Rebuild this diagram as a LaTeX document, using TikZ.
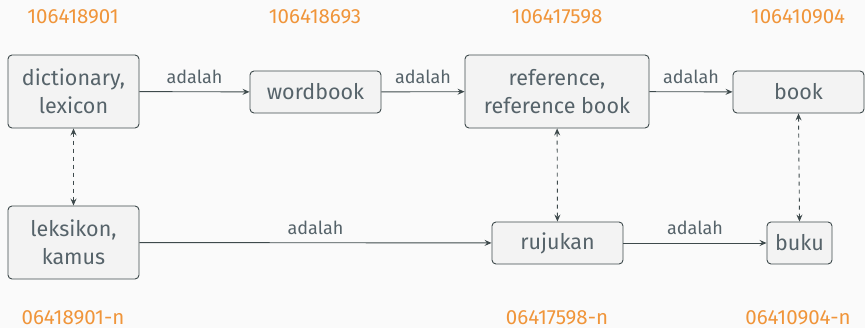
\documentclass[tikz,border=0pt]{standalone}
\usepackage{fontspec}
\setmainfont{Fira Sans}
\usetikzlibrary{arrows.meta}
\definecolor{bgcol}{HTML}{FAFAFA}
\definecolor{boxfill}{HTML}{F3F3F3}
\definecolor{boxline}{HTML}{3E4A4C}
\definecolor{txtcol}{HTML}{56636A}
\definecolor{idcol}{HTML}{F0953A}
\begin{document}
\begin{tikzpicture}[x=1pt,y=-1pt,
    synset/.style={draw=boxline,fill=boxfill,rounded corners=4pt,line width=0.9pt,
      inner sep=0pt,align=center,text=txtcol,minimum width=131pt,
      font=\fontsize{21.5}{28}\selectfont},
    tall/.style={minimum height=73pt},
    short/.style={minimum height=42pt},
    synid/.style={text=idcol,font=\fontsize{20.5}{24}\selectfont},
    rel/.style={draw=boxline,line width=0.9pt,-{Stealth[length=7pt,width=6pt,inset=2.5pt]}},
    eq/.style={draw=boxline,line width=0.9pt,dashed,dash pattern=on 4pt off 4pt,
      {Stealth[length=7pt,width=6pt,inset=2.5pt]}-{Stealth[length=7pt,width=6pt,inset=2.5pt]}},
    lbl/.style={text=txtcol,font=\fontsize{18}{21}\selectfont,above,inner sep=8pt}]
  \fill[bgcol] (0,0) rectangle (865,328);
  \useasboundingbox (0,0) rectangle (865,328);
  % english synsets
  \node[synset,tall] (dict) at (73.5,91.5) {dictionary,\\lexicon};
  \node[synset,short] (wordbook) at (315.5,92) {wordbook};
  \node[synset,tall,minimum width=184pt] (ref) at (557,91.5) {reference,\\reference book};
  \node[synset,short] (book) at (798.5,92) {book};
  % indonesian synsets
  \node[synset,tall] (leks) at (73.5,242.5) {leksikon,\\kamus};
  \node[synset,short] (ruj) at (557.5,243) {rujukan};
  \node[synset,short,minimum width=65pt] (buku) at (799.5,243) {buku};
  % ids
  \node[synid] (id1) at (73,17) {106418901};
  \node[synid] (id2) at (315,17) {106418693};
  \node[synid] (id3) at (557,17) {106417598};
  \node[synid] (id4) at (798,17) {106410904};
  \node[synid] (id5) at (73,318) {06418901-n};
  \node[synid] (id6) at (557,318) {06417598-n};
  \node[synid] (id7) at (798,318) {06410904-n};
  % relations
  \draw[rel] (dict) -- node[lbl] {adalah} (wordbook);
  \draw[rel] (wordbook) -- node[lbl] {adalah} (ref);
  \draw[rel] (ref) -- node[lbl] {adalah} (book);
  \draw[rel] (leks) -- node[lbl] {adalah} (ruj);
  \draw[rel] (ruj) -- node[lbl] {adalah} (buku);
  \draw[eq] (dict) -- (leks);
  \draw[eq] (ref) -- (ruj);
  \draw[eq] (book.south) -- (buku.north);
\end{tikzpicture}
\end{document}
